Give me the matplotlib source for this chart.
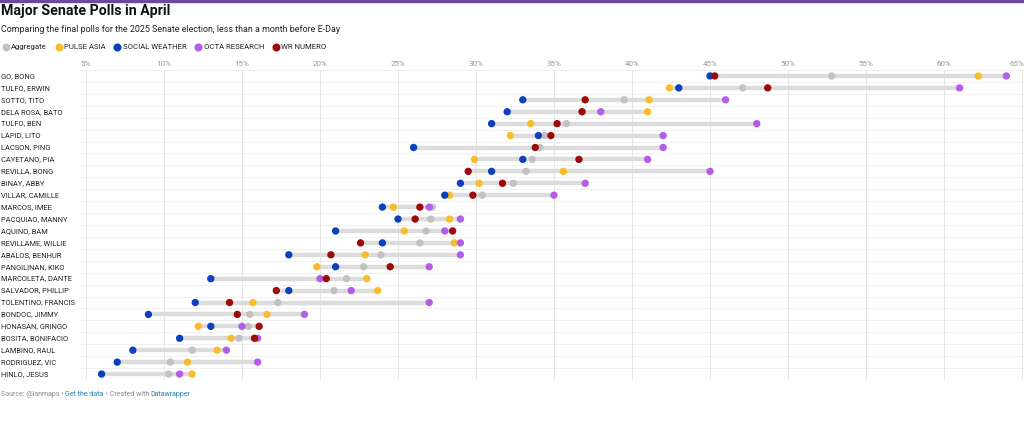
import numpy as np
import matplotlib
matplotlib.use("Agg")
import matplotlib.pyplot as plt
import matplotlib.transforms as mtransforms
from matplotlib.lines import Line2D
from matplotlib.patches import Rectangle

plt.rcParams["font.family"] = ["Roboto", "DejaVu Sans"]

names = ["GO, BONG", "TULFO, ERWIN", "SOTTO, TITO", "DELA ROSA, BATO",
         "TULFO, BEN", "LAPID, LITO", "LACSON, PING", "CAYETANO, PIA",
         "REVILLA, BONG", "BINAY, ABBY", "VILLAR, CAMILLE", "MARCOS, IMEE",
         "PACQUIAO, MANNY", "AQUINO, BAM", "REVILLAME, WILLIE",
         "ABALOS, BENHUR", "PANGILINAN, KIKO", "MARCOLETA, DANTE",
         "SALVADOR, PHILLIP", "TOLENTINO, FRANCIS", "BONDOC, JIMMY",
         "HONASAN, GRINGO", "BOSITA, BONIFACIO", "LAMBINO, RAUL",
         "RODRIGUEZ, VIC", "HINLO, JESUS"]
nan = np.nan
aggregate = [52.8, 47.1, 39.5, 36.8, 35.8, 34.4, 34.1, 33.6, 33.2, 32.4,
             30.4, 27.2, 27.1, 26.8, 26.4, 23.9, 22.8, 21.7, 20.9, 17.3,
             15.5, 15.4, 14.8, 11.8, 10.4, 10.3]
pulse_asia = [62.2, 42.4, 41.1, 41.0, 33.5, 32.2, nan, 29.9, 35.6, 30.2,
              28.3, 24.7, 28.3, 25.4, 28.6, 22.9, 19.8, 23.0, 23.7, 15.7,
              16.6, 12.2, 14.3, 13.4, 11.5, 11.8]
social_weather = [45.0, 43.0, 33.0, 32.0, 31.0, 34.0, 26.0, 33.0, 31.0, 29.0,
                  28.0, 24.0, 25.0, 21.0, 24.0, 18.0, 21.0, 13.0, 18.0, 12.0,
                  9.0, 13.0, 11.0, 8.0, 7.0, 6.0]
octa_research = [64.0, 61.0, 46.0, 38.0, 48.0, 42.0, 42.0, 41.0, 45.0, 37.0,
                 35.0, 27.0, 29.0, 28.0, 29.0, 29.0, 27.0, 20.0, 22.0, 27.0,
                 19.0, 15.0, 16.0, 14.0, 16.0, 11.0]
wr_numero = [45.3, 48.7, 37.0, 36.8, 35.2, 34.8, 33.8, 36.6, 29.5, 31.7,
             29.8, 26.4, 26.1, 28.5, 22.6, 20.7, 24.5, 20.4, 17.2, 14.2,
             14.7, 16.1, 15.8, nan, nan, nan]
ticks = [5, 10, 15, 20, 25, 30, 35, 40, 45, 50, 55, 60, 65]

series = [("Aggregate", aggregate, "#c2c2c2"),
          ("PULSE ASIA", pulse_asia, "#f9bd2c"),
          ("SOCIAL WEATHER", social_weather, "#0b40bf"),
          ("OCTA RESEARCH", octa_research, "#b35de9"),
          ("WR NUMERO", wr_numero, "#9c0a0a")]

W, H = 1024, 421
fig = plt.figure(figsize=(W / 100, H / 100), dpi=100)
fig.add_artist(Rectangle((0, 1 - 1.5 / H), 1, 1.5 / H, color="#6a4a9c",
                         transform=fig.transFigure))

ax = fig.add_axes([80 / W, 1 - 380 / H, (W - 80) / W, 310 / H])
n = len(names)
y = np.arange(n)
allv = np.array([s[1] for s in series], dtype=float)
lo, hi = np.nanmin(allv, axis=0), np.nanmax(allv, axis=0)

ax.hlines(np.arange(-0.5, n), 4.6, 65.2, color="#eeeeee", lw=0.6, zorder=0)
ax.hlines(y, lo, hi, color="#dcdcdc", lw=3.2, zorder=1)
for i, (label, vals, col) in enumerate(series):
    ax.scatter(vals, y, s=28, color=col, edgecolors="none", zorder=2 + i)

ax.set_xlim(4.615, 65.13)
ax.set_ylim(n - 0.5, -0.5)
ax.set_xticks(ticks)
# last label sits flush with the right edge, drawn separately below
ax.set_xticklabels([f"{t}%" for t in ticks[:-1]] + [""], color="#999999",
                   fontsize=5.8)
ax.xaxis.tick_top()
ax.tick_params(axis="x", length=0, pad=2)
ax.text(1.0, 1 + 6 / 310, f"{ticks[-1]}%", transform=ax.transAxes,
        ha="right", va="center", color="#999999", fontsize=5.8)
ax.set_yticks([])
ax.grid(axis="x", color="#e6e6e6", lw=0.7)
ax.set_axisbelow(True)
for sp in ax.spines.values():
    sp.set_visible(False)

tr = mtransforms.blended_transform_factory(fig.transFigure, ax.transData)
for i, nm in enumerate(names):
    ax.text(1 / W, i, nm, transform=tr, fontsize=5.45, color="#222222",
            va="center", ha="left")

fig.text(1 / W, 1 - 11 / H, "Major Senate Polls in April", fontsize=10.2,
         weight="bold", color="#111111", va="center")
fig.text(1 / W, 1 - 29 / H,
         "Comparing the final polls for the 2025 Senate election, less than a month before E-Day",
         fontsize=6.4, color="#222222", va="center")

handles = [Line2D([], [], ls="none", marker="o", ms=5.8, color=c,
                  markeredgewidth=0) for _, _, c in series]
fig.legend(handles, [s[0] for s in series], loc="center left",
           bbox_to_anchor=(-2 / W, 1 - 47 / H), ncol=5, frameon=False,
           fontsize=5.6, handletextpad=0.1, columnspacing=0.9,
           handlelength=1.2, borderaxespad=0, labelcolor="#222222")

t = fig.text(1 / W, 1 - 395 / H, "Source: @lanmaps • ", fontsize=5,
             color="#8a8a8a", va="center")
for txt, col in [("Get the data", "#1e82a8"), (" • Created with ", "#8a8a8a"),
                 ("Datawrapper", "#1e82a8")]:
    t = fig.text(0, 0, txt, fontsize=5, color=col, va="center")
    fig.canvas.draw()
    prev = fig.texts[-2].get_window_extent()
    t.set_position(fig.transFigure.inverted().transform((prev.x1, 0)) * [1, 0]
                   + [0, 1 - 395 / H])

fig.savefig("out.png", dpi=100)
